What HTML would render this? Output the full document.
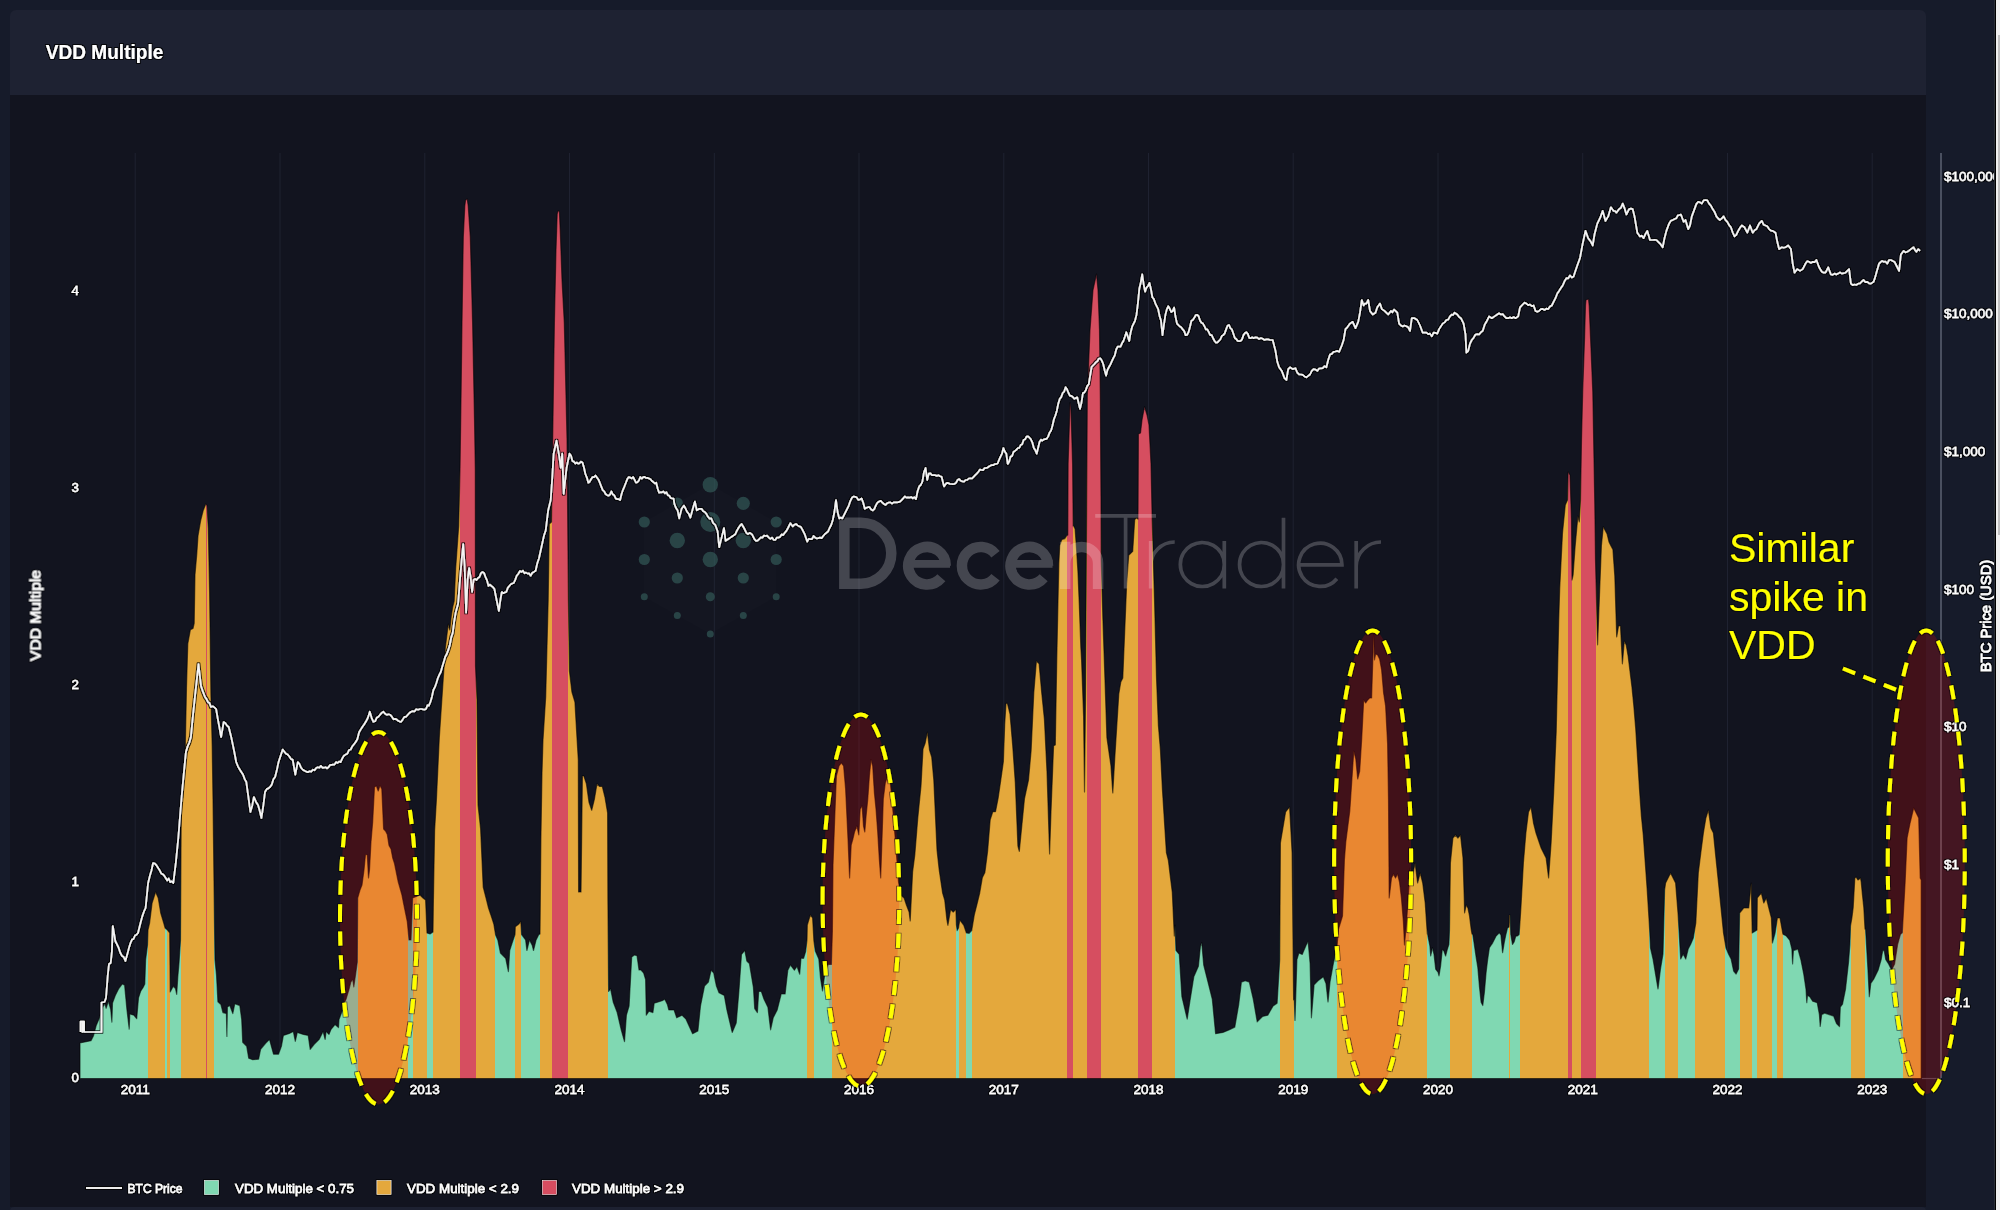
<!DOCTYPE html>
<html><head><meta charset="utf-8"><title>VDD Multiple</title>
<style>
html,body{margin:0;padding:0;}
body{width:2000px;height:1210px;overflow:hidden;background:#161b2a;position:relative;font-family:"Liberation Sans",sans-serif;}
.hdr{position:absolute;left:10px;top:10px;width:1916px;height:84.5px;background:#1e2232;border-radius:6px 6px 0 0;}
.panel{position:absolute;left:10px;top:94.5px;width:1916px;height:1112.5px;background:#12141f;}
.foot{position:absolute;left:10px;top:1207px;width:1916px;height:10px;background:#1d2131;border-radius:4px 4px 0 0;}
.sb{position:absolute;left:1994px;top:0;width:6px;height:1210px;background:#f0f0f0;}
.sb:before{content:"";position:absolute;left:0;top:0;width:1px;height:1210px;background:#2a2e36;}
.sb:after{content:"";position:absolute;left:1px;top:0;width:1px;height:1210px;background:#000;}
.thumb{position:absolute;left:1998px;top:35px;width:2px;height:500px;background:#c1c1c1;}
svg{position:absolute;left:0;top:0;}
</style></head><body>
<div class="hdr"></div>
<div class="panel"></div>
<div class="foot"></div>
<svg width="2000" height="1210" viewBox="0 0 2000 1210" font-family="Liberation Sans, sans-serif">
<defs>
<clipPath id="area"><path d="M80 1078.5 L80 1043 L91 1040.7 L93.4 1036 L96.2 1025.6 L99.1 1018.7 L102.6 1007.1 L104.9 1003.6 L106.1 1008.3 L108.4 1001.3 L110.7 1009.4 L111.9 1022.1 L112.5 1003 L115.3 995.5 L118.8 988.6 L122.3 984 L124.6 985.1 L126.9 1009.4 L129.2 1029.1 L129.8 1014 L133.9 1015.2 L136.7 1018.7 L138.5 997.9 L140.8 990.9 L143.1 987.4 L144.8 984 L145.6 960 L147.5 945 L148 930 L149.6 923 L152.1 903 L155.6 892 L158.2 898 L160.7 913 L163.7 923 L165.1 928 L167.4 930 L169.7 933 L170.2 992 L173.2 986.3 L175.5 988.6 L176.7 994.4 L177.8 977 L179 963.1 L180.5 940 L181.3 800 L182.7 797.7 L185.3 746.4 L186.5 687.4 L187.8 643.8 L190.4 629.7 L193 628.5 L194.2 623.3 L195 574.6 L196.8 554 L198 536 L200.6 520.8 L203.2 510.5 L205.8 504.1 L207 505.4 L208.3 528.5 L209.6 592.6 L210.9 695 L212.2 746.4 L213 800 L214.6 933 L215 960 L216.5 975 L217.9 1001.7 L220.9 1004.6 L222.9 1012.6 L226.4 1013.6 L226.9 1036.4 L227.4 1007 L229.8 1005.6 L232.8 1013.6 L234.8 1003.7 L239.8 1005.6 L241.7 1019.5 L242.7 1042.3 L246.7 1046.3 L248.7 1058.2 L252.7 1059.7 L258.6 1059.2 L260.6 1049.3 L265.6 1043.3 L269.5 1039.4 L273.5 1054.2 L278.5 1054.2 L281.4 1046.3 L283.4 1035.4 L289.4 1033.4 L293.3 1031.4 L295.3 1041.3 L297.3 1032.4 L303.3 1034.4 L308.2 1035.4 L310.2 1049.3 L314.2 1044.3 L319.1 1039.4 L323.1 1031.4 L325.1 1039.4 L326.1 1031.4 L329 1034.4 L331 1029.4 L335 1024.5 L338.5 1027.5 L339 1019.5 L342 1011.6 L343.4 1003.7 L345.9 999.7 L348.9 989.8 L350.9 981.8 L352.9 979.8 L353.8 986.8 L355.5 975 L357.3 962 L357.7 898 L360 890 L362 885 L364 870 L365.5 854.5 L367.3 855 L368.5 878 L369.5 870 L371 842 L372.7 821.8 L374.5 787 L376.4 786 L378.2 791 L380 785.5 L381.8 789 L383.6 829 L385.5 831 L387.3 834.5 L389 845.5 L391 849 L392.7 858 L394.5 863.6 L398.2 881.8 L401.8 894.5 L403.6 903.6 L407.3 921.8 L409 940 L411 940 L412.6 898 L415 897 L420 895 L423 898 L425.6 900 L427 933 L430 934 L433 932 L433.3 908 L434.6 831 L436.4 800 L439.3 738 L442.3 693 L445.3 648 L448.3 624 L449.8 630 L451.3 616 L452.7 607 L454.2 601 L455.7 568 L457.2 547 L458.7 526 L460 470 L461 400 L462 323 L463.3 237 L464.8 206 L465.6 200 L467.2 199 L468.2 206 L470.3 237 L472.6 323 L474.5 420 L475.3 470 L475.5 666 L477 700 L478 805 L480.6 828.8 L481.9 857.9 L483.2 887 L485.9 897.6 L488.5 908 L491.2 916 L493.8 924 L495.1 932 L495.6 935 L497.8 939.9 L500.4 953 L503.1 955.8 L505.7 958.4 L508.4 971.6 L509.7 950.5 L512.3 942.5 L515 934.6 L515.3 926.7 L518.9 924 L520.8 921.4 L521.6 934.6 L525.6 939.9 L526.9 950.5 L529.5 939.9 L532.2 945.2 L533.5 950.5 L536.1 939.9 L538.8 934.6 L540 934 L540.9 839.4 L542 773 L543 740 L545.7 697 L548.2 600 L549.3 524 L551.5 522 L552.7 439 L554.4 323 L556 250 L557.2 214 L558 211 L559.4 211.5 L560.4 235 L562 280 L564.3 323 L567 439 L568.4 600 L569.4 671 L571.9 692 L574.9 702 L577.1 740 L578.3 760 L578.6 892 L581 892 L582.4 775.9 L583.8 775.9 L586.4 783.8 L589 802.3 L591.7 810.3 L594.3 799.7 L597 783.8 L599.6 786.5 L602.3 786.5 L604.9 797 L607.6 812.9 L607.9 900 L608.6 991.4 L610.6 988.8 L613.2 1002 L617.2 1012.6 L621.2 1029.8 L624.5 1041.7 L626.4 1015.2 L629.1 1006 L631.7 957 L634.4 955 L637 955.7 L639 970 L641 970 L643.6 972.9 L645.6 979.5 L646.3 1015.2 L648.9 1011.2 L652.9 1012.6 L654.2 1003.3 L658.2 1002 L662.1 1000.7 L664.8 999.3 L667.4 1004.6 L668.8 1009.9 L674 1009.9 L676.7 1017.8 L682 1015.2 L686 1019.2 L692.6 1033.7 L697.9 1031 L700.5 1006 L704.5 986.1 L708.4 982.1 L711.1 970.2 L713.7 972.9 L716.4 986.1 L719 992.7 L724.3 995.4 L726.9 1009.9 L732.2 1032.4 L736.2 1023.1 L738.8 992.7 L741.5 954.4 L744.8 950.4 L746.8 961 L749.4 963.6 L753.4 987.4 L754.7 1008.6 L757.4 1012.6 L758.7 991.4 L761.3 991.4 L764 999.3 L767.9 1007.3 L770.6 1029.8 L773.2 1017.8 L777.2 1009.9 L781.2 994 L785.1 994 L787.8 970.2 L790.4 965 L794.4 970.2 L797 966.3 L799.7 974.2 L801 958.3 L803.6 958.3 L805.6 951.7 L807 940 L807.3 925 L810.3 915 L812.6 918 L813.9 941 L815.3 951 L818.8 959 L820.5 978 L822.5 991 L824.8 974 L828.1 964.5 L831.4 964.5 L832.4 931 L833 865 L834.7 819 L836.4 776 L839 766 L841.3 763 L843.6 766 L845.6 789 L848 839 L849.6 878 L851.2 845 L852.9 839 L854.5 832 L856.9 826 L858.8 835 L860.2 809 L862.1 806 L863.5 826 L864.8 832 L866.1 816 L867.8 799 L869.4 776 L871 759.5 L872.7 766 L874.4 793 L876 809 L877.7 832 L879.3 859 L880.7 878 L882 839 L883.3 799 L885.3 783 L887.6 776 L889.9 779 L891.9 799 L894.2 826 L896.5 855 L898.5 882 L900.8 895 L904.1 898 L906.4 905 L909.1 912 L910.2 921 L912.6 872 L914.8 855 L917.8 818 L921 786 L923 749 L925.2 743 L927.4 732 L929.5 750 L931.7 757 L933.8 780 L937 850 L939.2 870 L942.6 893 L944.7 900 L946.9 920 L947.9 925.3 L950.6 909.5 L953.2 912.1 L955.9 909.5 L956.4 925 L957.2 930.6 L958.5 928 L959.8 920 L963.8 925.3 L966.4 933 L969.1 933.3 L971.7 930.6 L974.3 914.8 L977 904.2 L979.6 893.6 L982.3 877.8 L984.9 872.5 L987.6 851.4 L990.2 819.7 L992.8 811.7 L995.5 811.7 L998.1 798.5 L1000.8 780 L1003.4 761.5 L1004.7 724.5 L1006 703.4 L1007.4 703.4 L1010 714 L1012.7 745.7 L1015.3 782.7 L1017.9 846 L1019.3 851.4 L1021.9 825 L1024.5 798.5 L1028.5 780 L1031.1 751 L1033.8 692.8 L1036.4 661.1 L1039.1 663.8 L1041.7 692.8 L1044.4 719.3 L1047 772.1 L1049.6 854 L1051 811.7 L1053.6 745.7 L1055.3 745 L1056.8 658 L1058.8 563 L1059.8 545.5 L1061.8 539.6 L1064.8 538.6 L1066.7 535.6 L1067.8 535 L1068.1 464 L1069.5 420 L1070 402.5 L1071 410 L1072.6 464 L1073.2 526 L1073.7 526 L1075.1 529 L1076.5 548.6 L1077.9 571 L1079.3 605 L1080.8 647 L1081.6 661 L1083.6 717 L1084.5 792 L1085.5 700 L1087.3 396 L1090 330 L1093 290 L1096.5 274 L1098 290 L1099.5 330 L1100.3 396 L1101 500 L1101.2 559 L1102.9 619 L1104.9 678 L1106.9 737.7 L1110.9 765.5 L1112.8 793 L1114.8 757.6 L1118.8 694 L1120.8 682 L1122.8 678 L1126.7 583 L1128.7 555.3 L1132.7 551.4 L1134.7 519.7 L1136.6 517.7 L1138 519 L1138.4 434 L1140.5 433 L1142 420 L1144.5 406.7 L1147 415 L1149 425 L1151 464 L1152.2 520 L1154.5 599 L1156.5 678 L1158.4 725.8 L1160.4 749.6 L1162.4 789.3 L1164.4 821 L1166.4 852.7 L1168.4 860.6 L1170.3 876.5 L1172.3 892.4 L1174.3 936 L1175 925 L1176 950.4 L1179.3 954.4 L1181.9 996.7 L1187.2 1019.1 L1189.8 1002 L1193.8 976.8 L1198.4 966.3 L1200.4 946.4 L1201.7 942.5 L1203.7 965 L1207 978.2 L1212.3 999.3 L1215.6 1033.7 L1222.9 1032.4 L1229.5 1029.7 L1234.8 1027.1 L1238.7 1004.6 L1241.4 982.1 L1245.3 980.8 L1249.3 982.1 L1253.3 999.3 L1257.2 1021.8 L1262.5 1016.5 L1267.8 1015.2 L1273.1 1005.9 L1277.1 1003.3 L1279.7 959.7 L1280.4 843 L1285.6 812 L1289.6 807 L1292.1 853 L1293.6 1000 L1294.3 999.3 L1295 1020.5 L1296.9 959.7 L1298.9 953 L1302.2 954.4 L1306.2 945.1 L1308.1 941.2 L1310.1 963.6 L1311.4 1017.8 L1314.1 984.8 L1318 980.8 L1323.3 976.8 L1326 983.5 L1328 1002 L1330 982.1 L1332.6 967.6 L1335 955 L1336.6 953 L1337.9 935 L1338.5 929 L1341 921 L1342.5 916 L1343.4 890 L1344.4 860 L1345.8 842 L1349.8 811 L1353.8 751 L1355.8 759 L1357.7 779 L1359.7 771 L1361.7 739 L1363.7 700 L1365.7 703 L1367.7 700 L1369.7 698 L1371.6 698 L1372.8 660 L1373.6 634 L1374.5 660 L1375.6 654 L1377.6 655 L1379.6 659 L1381.6 670 L1383.6 693 L1385.6 706 L1387.6 744 L1388.5 800 L1389.2 898 L1391.5 878 L1393.5 874 L1395.5 878 L1397.5 874 L1399.5 882 L1401.4 898 L1403.4 922 L1404.5 945 L1406.6 922 L1410.1 868 L1411.4 882 L1415.1 863 L1417.6 883 L1420.2 873 L1422.7 883 L1425.2 903 L1427.3 934 L1427.6 934.5 L1429.9 946 L1430.7 956 L1432.4 947.7 L1434 954.3 L1435.7 969.2 L1438.2 972.5 L1439 975.8 L1440.6 965.9 L1442.3 949.4 L1443.9 951 L1445.6 956 L1447.3 949.4 L1448.9 944.4 L1449.5 930 L1450.4 863 L1452.9 838 L1455.4 835 L1457.9 838 L1460.5 835 L1463 858 L1464.3 900 L1464.6 913 L1466.2 905 L1467.9 908 L1469.5 916 L1471.2 929.5 L1472 934 L1472.8 934.5 L1474.5 946 L1476.2 957.6 L1477.8 967.5 L1479.5 987.3 L1481.1 1002.2 L1482.8 1005.5 L1484.4 992.3 L1486.1 972.5 L1487.7 959.3 L1489.4 947.7 L1492.7 942.8 L1496 936.2 L1499.3 932.8 L1500.9 935 L1502.6 952.7 L1504.2 942.8 L1505.9 934.5 L1507.5 927.9 L1509 927 L1509.4 915 L1510.1 915 L1510.8 934.5 L1512.5 944.4 L1514.1 942 L1515.8 936.2 L1517.4 936 L1519.1 934.5 L1519.8 925 L1520.9 908 L1523.4 863 L1525.9 833 L1528.5 812 L1531 807 L1533.5 823 L1536 833 L1541.1 848 L1546.1 858 L1548.6 878 L1551.1 843 L1553.7 792 L1556.2 732 L1558.7 621 L1559.7 589 L1562.5 533 L1565.3 505 L1567.5 500 L1568.1 472 L1570 475 L1571.5 520 L1572 580 L1573.1 575 L1575.1 547 L1577.9 516 L1579.3 522 L1580.5 500 L1581.5 440 L1582.7 392 L1584.5 340 L1585.5 305 L1586 300 L1588.5 299 L1589.2 306 L1590.2 330 L1592.8 392 L1594.8 505 L1595.5 560 L1595.9 576 L1597.6 644.8 L1599.5 595 L1601.4 545.7 L1603.3 526.7 L1605.2 530.5 L1607.1 534 L1609 541.9 L1611 546 L1612.9 549.5 L1614.8 576 L1616.7 637 L1618.6 625.7 L1620.5 626 L1622.4 663.8 L1624.3 641 L1626.2 645 L1628.1 656 L1630 671.4 L1631.9 686.7 L1633.8 705.7 L1635.7 728.6 L1637.6 759 L1639.5 789.5 L1641.4 816.2 L1643.3 835.2 L1645.2 861.9 L1647.1 888.6 L1649 919 L1649.8 933 L1650.5 948 L1653 959 L1655.5 974 L1658 989 L1660.5 969 L1663 954 L1664.6 890 L1665.6 883 L1668.1 878 L1670.6 873 L1673.1 878 L1675.6 883 L1678 913 L1680.7 959 L1683.2 954 L1685.7 959 L1688.2 949 L1690.8 944 L1693.3 938 L1695.8 923 L1698.3 873 L1700.8 853 L1703.4 833 L1705.9 818 L1708.4 810 L1710.9 828 L1713.4 833 L1715.9 858 L1718.5 883 L1721 908 L1723.5 933 L1726 948 L1728.5 954 L1731.1 959 L1733.6 971 L1736.1 974 L1738.6 969 L1739.6 913 L1743.7 908 L1748.7 908 L1751.2 883 L1752.2 933 L1757 930 L1757.3 898 L1761.3 893 L1763.8 903 L1766.3 898 L1768.8 908 L1771.4 918 L1772.4 943 L1775.1 933 L1777.4 918 L1780 918 L1782.7 933 L1783 934.2 L1786 935.7 L1789.7 940.2 L1791.9 949.1 L1792.6 964 L1793.4 950.6 L1797.9 949.1 L1800.8 959.5 L1803.8 974.4 L1806 989.3 L1806.8 1002.7 L1807.5 995.2 L1809.8 996.7 L1812.7 1001.2 L1817.2 1002.7 L1819.4 1014.6 L1820.2 1026.5 L1821.7 1014.6 L1824.6 1013.1 L1829.1 1014.6 L1833.6 1016.1 L1836.5 1023.5 L1839.5 1026.5 L1840.3 1007.1 L1842.5 1004.2 L1845.5 989.3 L1848.5 962.5 L1849.9 944.6 L1850.5 926 L1851.9 918 L1853.2 907.6 L1854.8 878.5 L1856 877 L1858 880 L1860.5 878 L1861.2 882 L1862.4 894.4 L1863.8 907.6 L1865 929 L1865.6 929.8 L1867.8 967 L1869.3 996.7 L1870.8 983.3 L1873.8 978.9 L1878.2 969.9 L1881.2 959.5 L1882.7 950.6 L1884.2 950.6 L1885.7 959.5 L1888.6 964 L1891.6 969.9 L1894.6 964 L1897.6 944.6 L1900.5 934.2 L1902.3 932.7 L1905.1 883 L1907.1 838 L1910.1 823 L1913.7 808 L1916.2 813 L1918.7 818 L1920.2 878 L1921.2 880 L1921.2 1078.5 Z"/></clipPath>
<filter id="halo2" filterUnits="userSpaceOnUse" x="0" y="0" width="2000" height="1210">
<feMorphology in="SourceAlpha" operator="dilate" radius="1" result="d"/>
<feFlood flood-color="#000" flood-opacity="0.5"/>
<feComposite in2="d" operator="in" result="s"/>
<feMerge><feMergeNode in="s"/><feMergeNode in="SourceGraphic"/></feMerge>
</filter>
<filter id="halo" filterUnits="userSpaceOnUse" x="0" y="0" width="2000" height="1210">
<feMorphology in="SourceAlpha" operator="dilate" radius="1" result="d"/>
<feFlood flood-color="#000" flood-opacity="0.8"/>
<feComposite in2="d" operator="in" result="s"/>
<feMerge><feMergeNode in="s"/><feMergeNode in="SourceGraphic"/></feMerge>
</filter>
</defs>
<text x="45.8" y="59.2" font-size="19.5" font-weight="bold" fill="#fff" textLength="117.5" lengthAdjust="spacingAndGlyphs" filter="url(#halo)">VDD Multiple</text>
<g stroke="#1f2231" stroke-width="1"><line x1="135.2" y1="153" x2="135.2" y2="1078" /><line x1="280" y1="153" x2="280" y2="1078" /><line x1="424.8" y1="153" x2="424.8" y2="1078" /><line x1="569.5" y1="153" x2="569.5" y2="1078" /><line x1="714.3" y1="153" x2="714.3" y2="1078" /><line x1="859" y1="153" x2="859" y2="1078" /><line x1="1003.8" y1="153" x2="1003.8" y2="1078" /><line x1="1148.5" y1="153" x2="1148.5" y2="1078" /><line x1="1293.2" y1="153" x2="1293.2" y2="1078" /><line x1="1438" y1="153" x2="1438" y2="1078" /><line x1="1582.7" y1="153" x2="1582.7" y2="1078" /><line x1="1727.5" y1="153" x2="1727.5" y2="1078" /><line x1="1872.2" y1="153" x2="1872.2" y2="1078" /></g>
<g clip-path="url(#area)" shape-rendering="crispEdges"><rect x="80" y="150" width="67.7" height="930" fill="#80d8b2"/><rect x="147.7" y="150" width="17.4" height="930" fill="#e4a83c"/><rect x="165.1" y="150" width="2.3" height="930" fill="#80d8b2"/><rect x="167.4" y="150" width="2.3" height="930" fill="#e4a83c"/><rect x="169.7" y="150" width="11.6" height="930" fill="#80d8b2"/><rect x="181.3" y="150" width="24.9" height="930" fill="#e4a83c"/><rect x="206.2" y="150" width="1.1" height="930" fill="#d64e60"/><rect x="207.3" y="150" width="7.1" height="930" fill="#e4a83c"/><rect x="214.4" y="150" width="143.1" height="930" fill="#80d8b2"/><rect x="357.5" y="150" width="50.5" height="930" fill="#e4a83c"/><rect x="408" y="150" width="4.8" height="930" fill="#80d8b2"/><rect x="412.8" y="150" width="14.2" height="930" fill="#e4a83c"/><rect x="427" y="150" width="6.3" height="930" fill="#80d8b2"/><rect x="433.3" y="150" width="26.9" height="930" fill="#e4a83c"/><rect x="460.2" y="150" width="15.3" height="930" fill="#d64e60"/><rect x="475.5" y="150" width="19.8" height="930" fill="#e4a83c"/><rect x="495.3" y="150" width="19.8" height="930" fill="#80d8b2"/><rect x="515.1" y="150" width="6.3" height="930" fill="#e4a83c"/><rect x="521.4" y="150" width="18.9" height="930" fill="#80d8b2"/><rect x="540.3" y="150" width="11.7" height="930" fill="#e4a83c"/><rect x="552" y="150" width="16" height="930" fill="#d64e60"/><rect x="568" y="150" width="40" height="930" fill="#e4a83c"/><rect x="608" y="150" width="199.3" height="930" fill="#80d8b2"/><rect x="807.3" y="150" width="6.7" height="930" fill="#e4a83c"/><rect x="814" y="150" width="18.4" height="930" fill="#80d8b2"/><rect x="832.4" y="150" width="123.6" height="930" fill="#e4a83c"/><rect x="956.4" y="150" width="2.1" height="930" fill="#80d8b2"/><rect x="958.5" y="150" width="7.9" height="930" fill="#e4a83c"/><rect x="966.4" y="150" width="5.3" height="930" fill="#80d8b2"/><rect x="971.7" y="150" width="95.7" height="930" fill="#e4a83c"/><rect x="1067.4" y="150" width="6" height="930" fill="#d64e60"/><rect x="1073.4" y="150" width="13.1" height="930" fill="#e4a83c"/><rect x="1086.5" y="150" width="14.1" height="930" fill="#d64e60"/><rect x="1100.6" y="150" width="37.4" height="930" fill="#e4a83c"/><rect x="1138" y="150" width="14.4" height="930" fill="#d64e60"/><rect x="1152.4" y="150" width="22.2" height="930" fill="#e4a83c"/><rect x="1174.6" y="150" width="105.8" height="930" fill="#80d8b2"/><rect x="1280.4" y="150" width="13.2" height="930" fill="#e4a83c"/><rect x="1293.6" y="150" width="43.4" height="930" fill="#80d8b2"/><rect x="1337" y="150" width="90.5" height="930" fill="#e4a83c"/><rect x="1427.4" y="150" width="22.3" height="930" fill="#80d8b2"/><rect x="1449.7" y="150" width="22.3" height="930" fill="#e4a83c"/><rect x="1472" y="150" width="37.2" height="930" fill="#80d8b2"/><rect x="1509.2" y="150" width="1.1" height="930" fill="#e4a83c"/><rect x="1510.3" y="150" width="9.6" height="930" fill="#80d8b2"/><rect x="1519.9" y="150" width="48.1" height="930" fill="#e4a83c"/><rect x="1568" y="150" width="3.5" height="930" fill="#d64e60"/><rect x="1571.5" y="150" width="9.2" height="930" fill="#e4a83c"/><rect x="1580.7" y="150" width="14.8" height="930" fill="#d64e60"/><rect x="1595.5" y="150" width="53.9" height="930" fill="#e4a83c"/><rect x="1649.4" y="150" width="15.2" height="930" fill="#80d8b2"/><rect x="1664.6" y="150" width="13.6" height="930" fill="#e4a83c"/><rect x="1678.2" y="150" width="16.6" height="930" fill="#80d8b2"/><rect x="1694.8" y="150" width="30.2" height="930" fill="#e4a83c"/><rect x="1725" y="150" width="14.6" height="930" fill="#80d8b2"/><rect x="1739.6" y="150" width="12.4" height="930" fill="#e4a83c"/><rect x="1752" y="150" width="5.3" height="930" fill="#80d8b2"/><rect x="1757.3" y="150" width="15.1" height="930" fill="#e4a83c"/><rect x="1772.4" y="150" width="5" height="930" fill="#80d8b2"/><rect x="1777.4" y="150" width="5.3" height="930" fill="#e4a83c"/><rect x="1782.7" y="150" width="67.8" height="930" fill="#80d8b2"/><rect x="1850.5" y="150" width="14.5" height="930" fill="#e4a83c"/><rect x="1865" y="150" width="37.8" height="930" fill="#80d8b2"/><rect x="1902.8" y="150" width="18.7" height="930" fill="#e4a83c"/></g>
<path d="M80 1078.5 L80 1043 L91 1040.7 L93.4 1036 L96.2 1025.6 L99.1 1018.7 L102.6 1007.1 L104.9 1003.6 L106.1 1008.3 L108.4 1001.3 L110.7 1009.4 L111.9 1022.1 L112.5 1003 L115.3 995.5 L118.8 988.6 L122.3 984 L124.6 985.1 L126.9 1009.4 L129.2 1029.1 L129.8 1014 L133.9 1015.2 L136.7 1018.7 L138.5 997.9 L140.8 990.9 L143.1 987.4 L144.8 984 L145.6 960 L147.5 945 L148 930 L149.6 923 L152.1 903 L155.6 892 L158.2 898 L160.7 913 L163.7 923 L165.1 928 L167.4 930 L169.7 933 L170.2 992 L173.2 986.3 L175.5 988.6 L176.7 994.4 L177.8 977 L179 963.1 L180.5 940 L181.3 800 L182.7 797.7 L185.3 746.4 L186.5 687.4 L187.8 643.8 L190.4 629.7 L193 628.5 L194.2 623.3 L195 574.6 L196.8 554 L198 536 L200.6 520.8 L203.2 510.5 L205.8 504.1 L207 505.4 L208.3 528.5 L209.6 592.6 L210.9 695 L212.2 746.4 L213 800 L214.6 933 L215 960 L216.5 975 L217.9 1001.7 L220.9 1004.6 L222.9 1012.6 L226.4 1013.6 L226.9 1036.4 L227.4 1007 L229.8 1005.6 L232.8 1013.6 L234.8 1003.7 L239.8 1005.6 L241.7 1019.5 L242.7 1042.3 L246.7 1046.3 L248.7 1058.2 L252.7 1059.7 L258.6 1059.2 L260.6 1049.3 L265.6 1043.3 L269.5 1039.4 L273.5 1054.2 L278.5 1054.2 L281.4 1046.3 L283.4 1035.4 L289.4 1033.4 L293.3 1031.4 L295.3 1041.3 L297.3 1032.4 L303.3 1034.4 L308.2 1035.4 L310.2 1049.3 L314.2 1044.3 L319.1 1039.4 L323.1 1031.4 L325.1 1039.4 L326.1 1031.4 L329 1034.4 L331 1029.4 L335 1024.5 L338.5 1027.5 L339 1019.5 L342 1011.6 L343.4 1003.7 L345.9 999.7 L348.9 989.8 L350.9 981.8 L352.9 979.8 L353.8 986.8 L355.5 975 L357.3 962 L357.7 898 L360 890 L362 885 L364 870 L365.5 854.5 L367.3 855 L368.5 878 L369.5 870 L371 842 L372.7 821.8 L374.5 787 L376.4 786 L378.2 791 L380 785.5 L381.8 789 L383.6 829 L385.5 831 L387.3 834.5 L389 845.5 L391 849 L392.7 858 L394.5 863.6 L398.2 881.8 L401.8 894.5 L403.6 903.6 L407.3 921.8 L409 940 L411 940 L412.6 898 L415 897 L420 895 L423 898 L425.6 900 L427 933 L430 934 L433 932 L433.3 908 L434.6 831 L436.4 800 L439.3 738 L442.3 693 L445.3 648 L448.3 624 L449.8 630 L451.3 616 L452.7 607 L454.2 601 L455.7 568 L457.2 547 L458.7 526 L460 470 L461 400 L462 323 L463.3 237 L464.8 206 L465.6 200 L467.2 199 L468.2 206 L470.3 237 L472.6 323 L474.5 420 L475.3 470 L475.5 666 L477 700 L478 805 L480.6 828.8 L481.9 857.9 L483.2 887 L485.9 897.6 L488.5 908 L491.2 916 L493.8 924 L495.1 932 L495.6 935 L497.8 939.9 L500.4 953 L503.1 955.8 L505.7 958.4 L508.4 971.6 L509.7 950.5 L512.3 942.5 L515 934.6 L515.3 926.7 L518.9 924 L520.8 921.4 L521.6 934.6 L525.6 939.9 L526.9 950.5 L529.5 939.9 L532.2 945.2 L533.5 950.5 L536.1 939.9 L538.8 934.6 L540 934 L540.9 839.4 L542 773 L543 740 L545.7 697 L548.2 600 L549.3 524 L551.5 522 L552.7 439 L554.4 323 L556 250 L557.2 214 L558 211 L559.4 211.5 L560.4 235 L562 280 L564.3 323 L567 439 L568.4 600 L569.4 671 L571.9 692 L574.9 702 L577.1 740 L578.3 760 L578.6 892 L581 892 L582.4 775.9 L583.8 775.9 L586.4 783.8 L589 802.3 L591.7 810.3 L594.3 799.7 L597 783.8 L599.6 786.5 L602.3 786.5 L604.9 797 L607.6 812.9 L607.9 900 L608.6 991.4 L610.6 988.8 L613.2 1002 L617.2 1012.6 L621.2 1029.8 L624.5 1041.7 L626.4 1015.2 L629.1 1006 L631.7 957 L634.4 955 L637 955.7 L639 970 L641 970 L643.6 972.9 L645.6 979.5 L646.3 1015.2 L648.9 1011.2 L652.9 1012.6 L654.2 1003.3 L658.2 1002 L662.1 1000.7 L664.8 999.3 L667.4 1004.6 L668.8 1009.9 L674 1009.9 L676.7 1017.8 L682 1015.2 L686 1019.2 L692.6 1033.7 L697.9 1031 L700.5 1006 L704.5 986.1 L708.4 982.1 L711.1 970.2 L713.7 972.9 L716.4 986.1 L719 992.7 L724.3 995.4 L726.9 1009.9 L732.2 1032.4 L736.2 1023.1 L738.8 992.7 L741.5 954.4 L744.8 950.4 L746.8 961 L749.4 963.6 L753.4 987.4 L754.7 1008.6 L757.4 1012.6 L758.7 991.4 L761.3 991.4 L764 999.3 L767.9 1007.3 L770.6 1029.8 L773.2 1017.8 L777.2 1009.9 L781.2 994 L785.1 994 L787.8 970.2 L790.4 965 L794.4 970.2 L797 966.3 L799.7 974.2 L801 958.3 L803.6 958.3 L805.6 951.7 L807 940 L807.3 925 L810.3 915 L812.6 918 L813.9 941 L815.3 951 L818.8 959 L820.5 978 L822.5 991 L824.8 974 L828.1 964.5 L831.4 964.5 L832.4 931 L833 865 L834.7 819 L836.4 776 L839 766 L841.3 763 L843.6 766 L845.6 789 L848 839 L849.6 878 L851.2 845 L852.9 839 L854.5 832 L856.9 826 L858.8 835 L860.2 809 L862.1 806 L863.5 826 L864.8 832 L866.1 816 L867.8 799 L869.4 776 L871 759.5 L872.7 766 L874.4 793 L876 809 L877.7 832 L879.3 859 L880.7 878 L882 839 L883.3 799 L885.3 783 L887.6 776 L889.9 779 L891.9 799 L894.2 826 L896.5 855 L898.5 882 L900.8 895 L904.1 898 L906.4 905 L909.1 912 L910.2 921 L912.6 872 L914.8 855 L917.8 818 L921 786 L923 749 L925.2 743 L927.4 732 L929.5 750 L931.7 757 L933.8 780 L937 850 L939.2 870 L942.6 893 L944.7 900 L946.9 920 L947.9 925.3 L950.6 909.5 L953.2 912.1 L955.9 909.5 L956.4 925 L957.2 930.6 L958.5 928 L959.8 920 L963.8 925.3 L966.4 933 L969.1 933.3 L971.7 930.6 L974.3 914.8 L977 904.2 L979.6 893.6 L982.3 877.8 L984.9 872.5 L987.6 851.4 L990.2 819.7 L992.8 811.7 L995.5 811.7 L998.1 798.5 L1000.8 780 L1003.4 761.5 L1004.7 724.5 L1006 703.4 L1007.4 703.4 L1010 714 L1012.7 745.7 L1015.3 782.7 L1017.9 846 L1019.3 851.4 L1021.9 825 L1024.5 798.5 L1028.5 780 L1031.1 751 L1033.8 692.8 L1036.4 661.1 L1039.1 663.8 L1041.7 692.8 L1044.4 719.3 L1047 772.1 L1049.6 854 L1051 811.7 L1053.6 745.7 L1055.3 745 L1056.8 658 L1058.8 563 L1059.8 545.5 L1061.8 539.6 L1064.8 538.6 L1066.7 535.6 L1067.8 535 L1068.1 464 L1069.5 420 L1070 402.5 L1071 410 L1072.6 464 L1073.2 526 L1073.7 526 L1075.1 529 L1076.5 548.6 L1077.9 571 L1079.3 605 L1080.8 647 L1081.6 661 L1083.6 717 L1084.5 792 L1085.5 700 L1087.3 396 L1090 330 L1093 290 L1096.5 274 L1098 290 L1099.5 330 L1100.3 396 L1101 500 L1101.2 559 L1102.9 619 L1104.9 678 L1106.9 737.7 L1110.9 765.5 L1112.8 793 L1114.8 757.6 L1118.8 694 L1120.8 682 L1122.8 678 L1126.7 583 L1128.7 555.3 L1132.7 551.4 L1134.7 519.7 L1136.6 517.7 L1138 519 L1138.4 434 L1140.5 433 L1142 420 L1144.5 406.7 L1147 415 L1149 425 L1151 464 L1152.2 520 L1154.5 599 L1156.5 678 L1158.4 725.8 L1160.4 749.6 L1162.4 789.3 L1164.4 821 L1166.4 852.7 L1168.4 860.6 L1170.3 876.5 L1172.3 892.4 L1174.3 936 L1175 925 L1176 950.4 L1179.3 954.4 L1181.9 996.7 L1187.2 1019.1 L1189.8 1002 L1193.8 976.8 L1198.4 966.3 L1200.4 946.4 L1201.7 942.5 L1203.7 965 L1207 978.2 L1212.3 999.3 L1215.6 1033.7 L1222.9 1032.4 L1229.5 1029.7 L1234.8 1027.1 L1238.7 1004.6 L1241.4 982.1 L1245.3 980.8 L1249.3 982.1 L1253.3 999.3 L1257.2 1021.8 L1262.5 1016.5 L1267.8 1015.2 L1273.1 1005.9 L1277.1 1003.3 L1279.7 959.7 L1280.4 843 L1285.6 812 L1289.6 807 L1292.1 853 L1293.6 1000 L1294.3 999.3 L1295 1020.5 L1296.9 959.7 L1298.9 953 L1302.2 954.4 L1306.2 945.1 L1308.1 941.2 L1310.1 963.6 L1311.4 1017.8 L1314.1 984.8 L1318 980.8 L1323.3 976.8 L1326 983.5 L1328 1002 L1330 982.1 L1332.6 967.6 L1335 955 L1336.6 953 L1337.9 935 L1338.5 929 L1341 921 L1342.5 916 L1343.4 890 L1344.4 860 L1345.8 842 L1349.8 811 L1353.8 751 L1355.8 759 L1357.7 779 L1359.7 771 L1361.7 739 L1363.7 700 L1365.7 703 L1367.7 700 L1369.7 698 L1371.6 698 L1372.8 660 L1373.6 634 L1374.5 660 L1375.6 654 L1377.6 655 L1379.6 659 L1381.6 670 L1383.6 693 L1385.6 706 L1387.6 744 L1388.5 800 L1389.2 898 L1391.5 878 L1393.5 874 L1395.5 878 L1397.5 874 L1399.5 882 L1401.4 898 L1403.4 922 L1404.5 945 L1406.6 922 L1410.1 868 L1411.4 882 L1415.1 863 L1417.6 883 L1420.2 873 L1422.7 883 L1425.2 903 L1427.3 934 L1427.6 934.5 L1429.9 946 L1430.7 956 L1432.4 947.7 L1434 954.3 L1435.7 969.2 L1438.2 972.5 L1439 975.8 L1440.6 965.9 L1442.3 949.4 L1443.9 951 L1445.6 956 L1447.3 949.4 L1448.9 944.4 L1449.5 930 L1450.4 863 L1452.9 838 L1455.4 835 L1457.9 838 L1460.5 835 L1463 858 L1464.3 900 L1464.6 913 L1466.2 905 L1467.9 908 L1469.5 916 L1471.2 929.5 L1472 934 L1472.8 934.5 L1474.5 946 L1476.2 957.6 L1477.8 967.5 L1479.5 987.3 L1481.1 1002.2 L1482.8 1005.5 L1484.4 992.3 L1486.1 972.5 L1487.7 959.3 L1489.4 947.7 L1492.7 942.8 L1496 936.2 L1499.3 932.8 L1500.9 935 L1502.6 952.7 L1504.2 942.8 L1505.9 934.5 L1507.5 927.9 L1509 927 L1509.4 915 L1510.1 915 L1510.8 934.5 L1512.5 944.4 L1514.1 942 L1515.8 936.2 L1517.4 936 L1519.1 934.5 L1519.8 925 L1520.9 908 L1523.4 863 L1525.9 833 L1528.5 812 L1531 807 L1533.5 823 L1536 833 L1541.1 848 L1546.1 858 L1548.6 878 L1551.1 843 L1553.7 792 L1556.2 732 L1558.7 621 L1559.7 589 L1562.5 533 L1565.3 505 L1567.5 500 L1568.1 472 L1570 475 L1571.5 520 L1572 580 L1573.1 575 L1575.1 547 L1577.9 516 L1579.3 522 L1580.5 500 L1581.5 440 L1582.7 392 L1584.5 340 L1585.5 305 L1586 300 L1588.5 299 L1589.2 306 L1590.2 330 L1592.8 392 L1594.8 505 L1595.5 560 L1595.9 576 L1597.6 644.8 L1599.5 595 L1601.4 545.7 L1603.3 526.7 L1605.2 530.5 L1607.1 534 L1609 541.9 L1611 546 L1612.9 549.5 L1614.8 576 L1616.7 637 L1618.6 625.7 L1620.5 626 L1622.4 663.8 L1624.3 641 L1626.2 645 L1628.1 656 L1630 671.4 L1631.9 686.7 L1633.8 705.7 L1635.7 728.6 L1637.6 759 L1639.5 789.5 L1641.4 816.2 L1643.3 835.2 L1645.2 861.9 L1647.1 888.6 L1649 919 L1649.8 933 L1650.5 948 L1653 959 L1655.5 974 L1658 989 L1660.5 969 L1663 954 L1664.6 890 L1665.6 883 L1668.1 878 L1670.6 873 L1673.1 878 L1675.6 883 L1678 913 L1680.7 959 L1683.2 954 L1685.7 959 L1688.2 949 L1690.8 944 L1693.3 938 L1695.8 923 L1698.3 873 L1700.8 853 L1703.4 833 L1705.9 818 L1708.4 810 L1710.9 828 L1713.4 833 L1715.9 858 L1718.5 883 L1721 908 L1723.5 933 L1726 948 L1728.5 954 L1731.1 959 L1733.6 971 L1736.1 974 L1738.6 969 L1739.6 913 L1743.7 908 L1748.7 908 L1751.2 883 L1752.2 933 L1757 930 L1757.3 898 L1761.3 893 L1763.8 903 L1766.3 898 L1768.8 908 L1771.4 918 L1772.4 943 L1775.1 933 L1777.4 918 L1780 918 L1782.7 933 L1783 934.2 L1786 935.7 L1789.7 940.2 L1791.9 949.1 L1792.6 964 L1793.4 950.6 L1797.9 949.1 L1800.8 959.5 L1803.8 974.4 L1806 989.3 L1806.8 1002.7 L1807.5 995.2 L1809.8 996.7 L1812.7 1001.2 L1817.2 1002.7 L1819.4 1014.6 L1820.2 1026.5 L1821.7 1014.6 L1824.6 1013.1 L1829.1 1014.6 L1833.6 1016.1 L1836.5 1023.5 L1839.5 1026.5 L1840.3 1007.1 L1842.5 1004.2 L1845.5 989.3 L1848.5 962.5 L1849.9 944.6 L1850.5 926 L1851.9 918 L1853.2 907.6 L1854.8 878.5 L1856 877 L1858 880 L1860.5 878 L1861.2 882 L1862.4 894.4 L1863.8 907.6 L1865 929 L1865.6 929.8 L1867.8 967 L1869.3 996.7 L1870.8 983.3 L1873.8 978.9 L1878.2 969.9 L1881.2 959.5 L1882.7 950.6 L1884.2 950.6 L1885.7 959.5 L1888.6 964 L1891.6 969.9 L1894.6 964 L1897.6 944.6 L1900.5 934.2 L1902.3 932.7 L1905.1 883 L1907.1 838 L1910.1 823 L1913.7 808 L1916.2 813 L1918.7 818 L1920.2 878 L1921.2 880 L1921.2 1078.5 Z" fill="none" stroke="#000" stroke-opacity="0.55" stroke-width="1.2" stroke-linejoin="round"/>
<line x1="1921.8" y1="1078.5" x2="1941" y2="1078.5" stroke="#4a5060" stroke-width="1.2"/>
<polygon points="710,484 776,522 776,597 710,634 644,597 644,522" fill="#ffffff" fill-opacity="0.012"/>
<g fill="#3b6b66" fill-opacity="0.55"><circle cx="710.3" cy="484.7" r="7.7"/><circle cx="710.3" cy="522" r="10"/><circle cx="710.3" cy="559.5" r="7.7"/><circle cx="710.3" cy="596.8" r="4.5"/><circle cx="710.3" cy="634" r="3.5"/><circle cx="677.3" cy="503" r="5.6"/><circle cx="677.3" cy="540.5" r="7.7"/><circle cx="677.3" cy="578" r="5.6"/><circle cx="677.3" cy="615.4" r="3.5"/><circle cx="743.3" cy="503.3" r="6.6"/><circle cx="743.3" cy="540.5" r="7.7"/><circle cx="743.3" cy="578" r="5.6"/><circle cx="743.3" cy="615.4" r="3.5"/><circle cx="644.3" cy="522" r="5.6"/><circle cx="644.3" cy="559.5" r="5.6"/><circle cx="644.3" cy="596.8" r="3.5"/><circle cx="776.2" cy="522" r="5.6"/><circle cx="776.2" cy="559.5" r="5.6"/><circle cx="776.2" cy="596.8" r="3.5"/></g>
<g opacity="0.21" fill="none" stroke="#fff">
<path d="M844.35 522.85 H860.85 A30.45 30.45 0 0 1 860.85 583.75 H844.35 Z M945.75 565.7 A18.75 18.75 0 1 0 941.36 577.75 M995.5 554.2 A18.75 18.75 0 1 0 995.5 577.2 M1048.05 565.7 A18.75 18.75 0 1 0 1043.66 577.75 M1065.2 589 V541.7 M1065.2 563.4 A16.45 16.45 0 0 1 1098.1 563.4 V589" stroke-width="10.5"/>
<path d="M906 563.8 H950 M1010.5 563.8 H1052.5" stroke-width="7.8"/>
<path d="M1095.2 515.8 H1156 M1125.6 515.8 V588.5 M1150.7 588.5 V541 M1150.7 566 A24 24 0 0 1 1174.7 542 M1224.3 541 V588.5 M1224.3 564.5 A21.98 21.98 0 1 1 1224.3 564.49 M1283.5 517.7 V588.5 M1283.5 564.5 A21.98 21.98 0 1 1 1283.5 564.49 M1298.65 564.8 H1341.95 A21.65 21.65 0 1 0 1336.9 578.7 M1356.2 588.5 V541 M1356.2 566 A24.8 24.8 0 0 1 1381 542" stroke-width="3.7"/>
</g>
<path d="M80.6 1032 L80.6 1021.6 L82.4 1021.6 L82.4 1032 L82.4 1021.6 L84.1 1021.6 L84.1 1032 L101.5 1032 L101.5 1002.5 L104.5 1002 L106 998 L107.8 975 L109 964 L110.7 963 L111.9 951.6 L112.8 926 L115.3 941 L117 944.4 L118.7 947.9 L120.4 953 L122.1 956.1 L123.7 957 L125.4 961 L127.1 955.1 L128.8 948.6 L130.5 943 L132 939.6 L133.5 939 L135 935.5 L136.5 934.8 L138 933 L140.5 923 L142.2 916.6 L143.9 911.7 L145.6 908 L148.1 883 L149.8 876.1 L151.4 870.7 L153.1 863 L154.8 863.5 L156.5 865.4 L158.2 868 L159.7 870.4 L161.2 873.4 L162.7 874.2 L164.2 875.7 L165.7 878 L167.2 880.5 L168.7 878.5 L170.3 882.1 L171.8 881.3 L173.3 883 L175.8 863 L178.3 838 L180.1 815.4 L181.8 795 L183.9 772.3 L185.9 752 L187.6 746.4 L189.2 743 L190.9 737 L192.9 716 L194.9 697 L196.7 680.8 L198.5 664 L201 686 L203 691.9 L205 697 L206.5 699.1 L208 702.2 L209.5 703.1 L211 707 L212.7 706.3 L214.4 707.4 L216.1 709 L217.8 718.9 L219.4 727.4 L221.1 737 L223.7 722 L225.4 723.1 L227 725.6 L228.7 727 L231.2 737 L232.9 745.2 L234.5 753 L236.2 762 L237.9 766.3 L239.6 769.3 L241.3 772 L243 774.5 L244.6 778.9 L246.3 782 L248.4 797.1 L250.4 812 L252.2 805.7 L253.9 797 L255.9 801.7 L258 805 L259.7 810.8 L261.4 818 L263.2 806.5 L265 792 L266.7 789.1 L268.4 788.4 L270.1 787 L271.8 784.5 L273.4 779.2 L275.1 777 L276.8 770.3 L278.5 762.2 L280.2 757 L282.7 749.5 L284.4 751.7 L286 753.7 L287.7 754.6 L289.4 756.5 L291 759.1 L292.7 759.6 L295.3 774.7 L297.8 762.1 L299.5 764 L301.1 767.8 L302.8 769.7 L304.5 770.8 L306.2 771.6 L307.9 772.2 L309.6 771.2 L311.2 771.6 L312.9 769.7 L314.6 770.3 L316.2 768 L317.9 767.2 L319.4 767.7 L320.9 765.8 L322.5 767.8 L324 767.7 L325.5 767.2 L327 768.3 L328.5 767.2 L330 765 L331.5 764.8 L333 764.6 L334.5 764.6 L336 762.1 L337.6 763 L339.1 761.5 L340.6 762.1 L342.3 758.4 L343.9 755.7 L345.6 754.6 L347.3 753.8 L349 750 L350.7 749.5 L352.4 746.2 L354 744.2 L355.7 742 L357.4 739 L359.1 732.3 L360.8 729.4 L362.5 726.7 L364.1 724.5 L365.8 721.8 L367.8 718 L369.8 711.7 L371.6 717.8 L373.4 721.8 L375.1 721.3 L376.7 717.8 L378.4 716.8 L380.1 714.8 L381.7 712.9 L383.4 711.7 L385.1 713.8 L386.8 714.9 L388.5 714.3 L390.2 714.8 L391.8 716.6 L393.5 719.3 L395 718.9 L396.5 719.4 L398.1 720.8 L399.6 721.6 L401.1 721.8 L402.8 719.4 L404.4 716.9 L406.1 716.8 L407.8 714.8 L409.4 713 L411.1 711.7 L412.8 711.1 L414.5 711.5 L416.2 709.2 L418.1 709.7 L420 709 L421.5 709 L423 709.4 L424.5 709.6 L426 709 L427.5 705.2 L428.9 705.6 L430.4 702 L431.9 696.9 L433.4 690 L434.9 687.2 L436.4 683 L437.9 678 L439.4 674.7 L440.8 672 L442.3 666.5 L443.8 661.7 L445.3 656.6 L446.8 654 L448.3 649.9 L449.8 645 L451.2 637.6 L452.7 633 L454.2 621.4 L455.7 612.6 L458.1 603.7 L460.2 577 L461.7 559.6 L463.2 544 L464.6 565 L466.1 612.6 L467.6 580 L469.1 568 L470.6 577 L472.1 592 L473.6 580 L475.1 578.9 L476.5 580 L478 578 L479.5 577 L481 573.1 L482.5 572 L484 572.9 L485.5 577 L487 580.4 L488.5 586 L489.9 584.7 L491.4 586 L492.9 587.1 L494.4 589 L496.8 601 L498.9 611 L500.4 600 L501.8 592 L503.3 593.2 L504.8 592.4 L506.3 592 L507.8 587.9 L509.3 586 L510.8 584.2 L512.3 583.5 L513.8 583 L515.3 579.6 L516.7 575.8 L518.2 574 L520 571 L521.5 572 L523 570.7 L524.5 573.3 L526 572.6 L527.6 573.6 L529.1 573.4 L530.6 575.7 L532.3 572.8 L533.9 571.9 L535.6 570.7 L537.3 563.2 L539 558.3 L540.7 550.5 L542.4 542.7 L544 535.6 L545.7 530.4 L548.2 510.2 L550.7 500 L552.2 478.4 L553.6 454 L555 447.4 L556.5 440.7 L559.3 456.6 L560.8 468 L562.2 453.7 L563.7 494 L565.2 479.9 L566.6 468 L568 461 L569.5 453.7 L571 455.8 L572.4 461 L573.8 461.6 L575.3 463.5 L576.7 462.5 L578.2 463.7 L579.6 463.1 L581 461.7 L582.5 462.5 L584 467.8 L585.4 474 L586.8 477.3 L588.3 482.7 L589.7 481.7 L591.2 479 L592.6 477 L594 477.1 L595.5 475.5 L596.9 477.4 L598.4 479.4 L599.8 482.7 L601.3 486.6 L602.7 490.1 L604.2 491.4 L605.6 494 L607.1 495.2 L608.5 495.7 L610 494.6 L611.4 491.4 L612.9 494.6 L614.3 495.3 L615.8 498.6 L617.2 499.1 L618.7 499.1 L620.1 500 L621.5 494.2 L623 489.8 L624.5 486.3 L625.9 482.7 L627.3 479.1 L628.8 477 L630.2 477.6 L631.7 478.5 L633.1 477 L634.5 479.7 L636 482.7 L637.4 482.2 L638.9 480.5 L640.3 477 L641.8 478.7 L643.2 477.1 L644.6 476.9 L646.1 478 L647.5 477.9 L649 478.5 L650.5 479.3 L651.9 481 L653.3 482 L654.8 483.4 L656.2 482.7 L657.7 488.8 L659.1 492.7 L660.6 492.2 L662 492.3 L663.5 491.4 L665 493.4 L666.4 492.2 L667.8 495.1 L669.3 495.7 L670.7 498 L672.2 498.5 L673.6 498.6 L674.4 504 L676 508 L677.6 510.4 L679.2 518.4 L681.6 508.8 L684 505.6 L685.6 508.7 L687.2 512 L688.8 513.8 L690.4 517.6 L692.8 508.8 L694.9 501.6 L696.8 510.4 L699.2 508.8 L701.6 508.8 L703.2 511.3 L704.8 512 L706.4 513.9 L708 516.8 L709.6 518.6 L711.2 518.4 L713.2 523.1 L715.2 524.8 L717.6 531.2 L719.2 547.2 L721.6 537.6 L724 528 L725.6 540.8 L728 539.2 L730.4 537.6 L732.8 536 L735.2 534.4 L736.8 530.9 L738.4 528 L740 525.7 L741.6 524 L744 528 L746.4 532.8 L748 534.2 L749.6 532.8 L752 534.4 L754.4 539.2 L756 540.8 L757.6 540.7 L759.2 539.2 L760.8 537.3 L762.4 537.6 L764 535.6 L765.6 536 L767.2 535.7 L768.8 537.6 L770.4 538.9 L772 537.6 L773.6 539.8 L775.2 540 L776.8 537.7 L778.4 537.6 L780 537 L781.6 534.4 L783.2 535.1 L784.8 532.8 L786.4 530.9 L788 528 L790.4 523.2 L792.8 526.4 L794.4 524.7 L796 524 L797.6 525.4 L799.2 526.4 L800.8 526.8 L802.4 529.6 L804.8 534.4 L807.2 541.6 L808.8 538.8 L810.4 539.2 L812 539.1 L813.6 536 L815.2 537.7 L816.8 538.4 L818.4 538.1 L820 537.6 L821.6 538.2 L823.2 536 L824.8 534.2 L826.4 532.8 L828 531.6 L829.6 528 L831.2 525 L832.8 520 L834.4 512 L836 500 L837.6 512 L839.2 518.4 L840.8 517.5 L842.4 518.4 L844 515.2 L846.4 510.4 L848.8 505.6 L850.4 500.8 L852 497.6 L853.6 496.5 L855.2 496.8 L856.8 497.6 L858.4 500 L860 499.5 L861.6 498.4 L863.2 502.8 L864.8 508.8 L866.4 507.7 L868 507.2 L869.6 507.2 L871.2 509.6 L872.8 510.5 L874.4 508.8 L876 505.1 L877.6 502.4 L879.2 501.5 L880.8 500.8 L882.4 502.7 L884 504 L885.6 504.9 L887.2 503.2 L888.8 502.5 L890.4 502.4 L892 503.7 L893.6 502.4 L895.2 502.4 L896.8 502.4 L898.4 502.1 L900 501.6 L901.6 500.1 L903.2 498.4 L904.8 496.5 L906.4 497.6 L908 497.4 L909.6 497.6 L911.2 497 L912.8 498.4 L914.4 497.2 L916 499.2 L917.6 491.2 L919.2 486.4 L920.8 485 L922.4 481.6 L924 472 L925.6 468 L927.2 480 L928.8 473.6 L930.4 473.4 L932 475.2 L933.6 475.1 L935.2 475.2 L936.8 475.9 L938.4 475.2 L940 476.2 L941.6 476.8 L944 486.4 L946.4 483.2 L948 482.9 L949.6 483.8 L951.2 484 L952.8 484.2 L954.4 484 L956 482.9 L957.6 480 L959.2 479.1 L960.8 480.8 L962.4 481.4 L964 481.6 L965.6 480 L967.2 480 L968.8 478.5 L970.4 478.4 L972 478.5 L973.6 476.8 L975.2 475.2 L976.8 473.6 L978.4 471.8 L980 469.6 L981.5 470 L983 470.1 L984.5 468.2 L986 468 L987.5 467.6 L988.9 466.5 L990.3 465.8 L991.8 465 L993.2 465.2 L994.7 464.1 L996.1 464 L997.6 463.5 L999 460 L1000.5 456.6 L1002 453.7 L1003.4 448 L1004.8 451.5 L1006.3 453.7 L1007.7 464 L1009.2 461.5 L1010.6 456.6 L1012.1 456.1 L1013.5 452 L1015 450.9 L1016.5 449.6 L1017.9 448 L1019.3 447.9 L1020.7 445 L1022.2 444.2 L1023.6 440 L1025.1 439.3 L1026.5 436.6 L1028 436.4 L1029.5 437.7 L1030.9 439.3 L1032.3 442.3 L1033.8 448 L1035.2 450 L1036.7 453.7 L1039.5 442 L1041 439.7 L1042.4 440.7 L1043.9 439.3 L1045.3 439.2 L1046.8 438.6 L1048.2 436.4 L1049.7 432.4 L1051.1 430.6 L1052.5 425.5 L1054 419 L1055.5 415.2 L1056.9 410.4 L1058.3 403.5 L1059.8 398.8 L1061.2 397.1 L1062.7 393 L1064.2 391.6 L1065.6 387.2 L1067 389.2 L1068.5 393 L1070 395.9 L1071.4 395.9 L1072.8 397 L1074.3 398.8 L1075.8 398 L1077.2 397.3 L1080 408.9 L1081.5 402.5 L1082.9 393 L1084.3 392.6 L1085.8 390.1 L1087.2 386.1 L1088.7 384.3 L1090.2 375.4 L1091.6 367 L1093 365.5 L1094.5 364 L1096 362.1 L1097.4 361.2 L1098.8 358.8 L1100.3 358.3 L1101.8 360.6 L1103.2 364 L1104.7 370.5 L1106.1 375.6 L1107.5 369.8 L1109 367 L1110.5 364.3 L1111.9 361.2 L1113.3 358.1 L1114.8 355.4 L1116.2 349.5 L1117.7 346.7 L1120.5 346.7 L1122 343.3 L1123.4 341 L1124.8 337 L1126.3 332.2 L1127.8 336.6 L1129.2 341 L1130.7 332.2 L1132.2 326.5 L1133.6 323.6 L1135 320.8 L1136.5 314.9 L1137.9 303.3 L1139.3 288.8 L1140.8 282.5 L1142.2 274.4 L1143.7 284.6 L1145.1 291.7 L1146.5 287.6 L1148 286 L1149.5 283 L1151 289.5 L1152.4 297.5 L1153.8 298.9 L1155.3 303.3 L1158.1 309 L1159.5 315.7 L1161 320.7 L1162.5 335.1 L1164 324.3 L1165.4 314.9 L1166.8 309.4 L1168.3 306.2 L1169.8 308.9 L1171.2 312 L1172.7 311.1 L1174.1 307.6 L1175.5 316.6 L1177 323.6 L1179.8 326.5 L1181.2 327.2 L1182.7 329.4 L1184.2 331.1 L1185.6 335.1 L1187 335 L1188.5 332.2 L1190 326.7 L1191.4 320.7 L1192.8 319.9 L1194.3 317.8 L1195.8 315 L1197.2 314.9 L1198.7 316.4 L1200.1 320.7 L1201.5 322.8 L1203 323.6 L1204.5 326.3 L1205.9 329.4 L1207.3 329.4 L1208.8 332.2 L1210.2 335.1 L1211.7 335.1 L1213.2 338.5 L1214.6 341 L1216 342.7 L1217.5 342.4 L1220.3 339.5 L1221.8 336 L1223.2 335.1 L1224.7 333.4 L1226.1 329.4 L1227.5 325.8 L1229 325 L1230.5 328.4 L1231.9 329.4 L1233.3 333.6 L1234.8 338 L1236.2 339 L1237.7 341 L1239.2 341.2 L1240.6 341 L1242 339.4 L1243.5 335.1 L1245 332.9 L1246.4 332.2 L1247.8 333.9 L1249.3 338 L1250.7 338.2 L1252.2 337.3 L1253.6 338.2 L1255.4 337.3 L1257.3 337.7 L1259.1 339.1 L1260.9 338 L1262.7 338.7 L1264.5 340 L1266.3 339.4 L1268.2 339.4 L1270 340 L1272.7 340 L1275.5 350.9 L1277.3 361.8 L1279.1 367.3 L1281.8 370.9 L1284.5 378.2 L1286.4 380 L1288.2 369.1 L1290 367.3 L1292.7 369.1 L1295.5 368.2 L1297.3 372.7 L1299.1 374.4 L1300.9 374.5 L1302.7 374.8 L1304.5 376.4 L1306.4 377.3 L1308.2 375.9 L1310 374.5 L1311.8 370.8 L1313.6 369.1 L1315.4 369.5 L1317.3 370.9 L1319.1 368.5 L1320.9 368.3 L1322.7 368.2 L1324.6 366.2 L1326.4 367.3 L1328.2 360 L1330 354.5 L1331.8 353.9 L1333.6 351.8 L1335.4 351.5 L1337.3 350.9 L1339.1 351.8 L1341.8 345.5 L1343.6 340 L1345.5 329.1 L1347.3 327.3 L1350 323.6 L1352.7 321.8 L1355.5 328.2 L1358.2 321.8 L1360 312.7 L1361.8 300 L1363.6 305.5 L1365 303.6 L1366.4 303.6 L1368.2 300 L1370 310.9 L1372.7 314.5 L1375.5 312.7 L1377.3 307.3 L1380 303.6 L1381.8 309.1 L1384.5 310.9 L1386.3 312.6 L1388.2 314.5 L1390.9 310.9 L1392.4 312.3 L1394 309.6 L1395.5 310.9 L1397.3 312.7 L1399.1 323.6 L1400.9 325.5 L1402.7 326.5 L1404.5 325.5 L1406.3 326.2 L1408.2 327.3 L1410 330.9 L1411.8 318.2 L1414.5 318.2 L1417.3 320 L1420 325.5 L1422.7 332.7 L1424.6 332.7 L1426.4 332.7 L1428.2 334.2 L1430 333.6 L1431.8 336.4 L1433.6 332.7 L1435.4 332.8 L1437.3 333.6 L1439.1 329.1 L1440.9 326.4 L1442.7 323.6 L1444.6 322.4 L1446.4 320 L1448.2 319.7 L1450 316.4 L1451.5 314.7 L1453 315 L1454.5 312.7 L1457.3 314.5 L1459.1 317 L1460.9 318.2 L1463.6 323.6 L1465.5 334.5 L1466.4 352.7 L1468.2 350.9 L1470 343.6 L1471.8 340 L1473.7 337.7 L1475.5 334.5 L1477.3 334.2 L1479.1 334.5 L1480.9 332.2 L1482.7 330.9 L1484.6 324.9 L1486.4 321.8 L1489.1 316.4 L1491.8 318.2 L1494.5 316.4 L1497.3 314.5 L1499.1 313.3 L1500.9 314.5 L1502.7 314.1 L1504.5 316.4 L1506.3 318.1 L1508.2 318.2 L1510 317.4 L1511.8 318.2 L1513.7 317.1 L1515.5 318.2 L1518.2 316.4 L1520 307.3 L1522.7 304.5 L1524.6 302.7 L1526.4 303.6 L1528.2 305.1 L1530 304.5 L1531.8 306.2 L1533.6 305.5 L1535.5 310.9 L1537.3 311.8 L1539.1 311 L1540.9 309.1 L1542.7 308.9 L1544.5 310 L1546.3 308.7 L1548.2 309.1 L1550 306.6 L1551.8 305.5 L1553.7 301.7 L1555.5 298.2 L1557.3 293.5 L1559.1 290.9 L1560.9 288 L1562.7 285.5 L1564.6 281.1 L1566.4 278.2 L1568.2 278.3 L1570 275.5 L1571.8 277.5 L1573.6 276.4 L1575.4 271.1 L1577.3 265.5 L1580 258 L1582.7 243.6 L1585.5 230.9 L1588.2 238.2 L1590.9 241.8 L1592.7 245.5 L1594.5 234.5 L1597.3 223.6 L1600 218.2 L1602.7 210.9 L1605.5 220.9 L1608.2 216.4 L1610.9 207.3 L1613.6 210.9 L1615 211 L1616.4 212.7 L1619.1 209.1 L1620.9 207.8 L1622.7 203.6 L1624.6 208.4 L1626.4 214.5 L1629.1 209.1 L1630.9 208.6 L1632.7 209.1 L1634.5 216.4 L1637.3 232.7 L1640 236.4 L1641.8 235.7 L1643.6 238.2 L1645.4 234.2 L1647.3 230.9 L1650 240 L1652.7 240 L1654.6 239.9 L1656.4 240 L1658.2 241.8 L1660 243.6 L1662.7 247.3 L1664.5 238.2 L1666.4 230.9 L1669.1 223.6 L1670.9 220.8 L1672.7 220 L1674.6 219.1 L1676.4 218.2 L1677.9 215.4 L1679.4 215 L1680.9 214.5 L1683.6 221.8 L1685.5 220 L1688.2 229.1 L1690 225.5 L1691.8 216.4 L1694.5 209.1 L1696.3 204.1 L1698.2 201.8 L1700 202.4 L1701.8 203.6 L1703.7 200.3 L1705.5 200 L1707.3 200.3 L1709.1 203.6 L1710.9 205.7 L1712.7 209.1 L1714.6 211.9 L1716.4 216.4 L1718.2 218.5 L1720 220 L1721.8 218.3 L1723.6 216.4 L1725.4 219.9 L1727.3 221.8 L1729.1 225.1 L1730.9 227.3 L1732.7 232.5 L1734.5 236.4 L1736.3 234.9 L1738.2 230.9 L1740 227.8 L1741.8 225.5 L1744.5 227.3 L1747.3 232.7 L1750 225.5 L1752.7 232.7 L1754.6 230.3 L1756.4 229.1 L1759.1 223.6 L1761.8 220.9 L1763.7 224.8 L1765.5 225.5 L1767.3 226.2 L1769.1 229.1 L1770.9 230.7 L1772.7 230.9 L1775.5 232.7 L1777.3 241.8 L1779.1 249.1 L1781.8 247.3 L1783.7 247.8 L1785.5 247.3 L1788.2 245.5 L1790.9 249.1 L1792.7 263.6 L1794.5 272.7 L1797.3 269.1 L1800 270.9 L1802.7 269.1 L1805.5 263.6 L1807.3 261.2 L1809.1 261.8 L1810.9 262.9 L1812.7 261.8 L1814.6 262.2 L1816.4 260 L1819.1 267.3 L1821.8 271.8 L1823.7 272.7 L1825.5 272.7 L1828.2 267.3 L1830.9 274.5 L1832.7 274.8 L1834.5 273.6 L1836.3 274.6 L1838.2 273.6 L1840 272.4 L1841.8 273.6 L1843.7 273.2 L1845.5 272.7 L1847.3 270.9 L1849.1 269.1 L1850.9 283.6 L1852.7 285.1 L1854.5 284.5 L1856.3 285 L1858.2 283.6 L1860 283.4 L1861.8 281.5 L1863.6 280 L1865.4 282.2 L1867.3 281.8 L1869.1 283.3 L1870.9 283.6 L1873.6 281.8 L1875 277.9 L1876.4 272.7 L1879.1 263.6 L1880.6 262.1 L1882.1 260.9 L1883.6 261.8 L1885.4 261.5 L1887.3 263.6 L1889.1 260 L1890.9 260 L1892.7 260.9 L1894.6 261.9 L1896.4 265.5 L1899.1 270.9 L1900.9 254.5 L1903.6 250.9 L1905.4 252.4 L1907.3 251.8 L1909.1 250.6 L1910.9 249.1 L1913.6 247.3 L1915 250 L1916.4 251.8 L1918.2 249.1 L1920 250.9" fill="none" stroke="#f4f4f4" stroke-width="1.7" stroke-linejoin="round" filter="url(#halo)"/>
<line x1="1941" y1="153" x2="1941" y2="1078" stroke="#4a5060" stroke-width="2"/>
<g fill="#ff0506" fill-opacity="0.2"><ellipse cx="378.5" cy="918.2" rx="38.5" ry="186.2"/><ellipse cx="860.9" cy="900.4" rx="38.3" ry="186"/><ellipse cx="1372.6" cy="862.2" rx="38.5" ry="231.8"/><ellipse cx="1926.3" cy="862.2" rx="38.5" ry="231.8"/></g>
<g fill="#ffffff" filter="url(#halo)" stroke="#fff" stroke-width="0.35">
<g font-size="13.3" text-anchor="end"><text x="79" y="1082.2">0</text><text x="79" y="885.7">1</text><text x="79" y="688.7">2</text><text x="79" y="492.2">3</text><text x="79" y="295.2">4</text></g>
<g font-size="13.5" text-anchor="middle"><text x="135.2" y="1094">2011</text><text x="280" y="1094">2012</text><text x="424.8" y="1094">2013</text><text x="569.5" y="1094">2014</text><text x="714.3" y="1094">2015</text><text x="859" y="1094">2016</text><text x="1003.8" y="1094">2017</text><text x="1148.5" y="1094">2018</text><text x="1293.2" y="1094">2019</text><text x="1438" y="1094">2020</text><text x="1582.7" y="1094">2021</text><text x="1727.5" y="1094">2022</text><text x="1872.2" y="1094">2023</text></g>
<g font-size="13.5"><text x="1944" y="180.7">$100,000</text><text x="1944" y="318.2">$10,000</text><text x="1944" y="455.7">$1,000</text><text x="1944" y="593.7">$100</text><text x="1944" y="731.2">$10</text><text x="1944" y="868.7">$1</text><text x="1944" y="1006.7">$0.1</text></g>
<g stroke-width="0.6">
<text transform="translate(40.5,615.5) rotate(-90)" text-anchor="middle" font-size="14.5" textLength="91" lengthAdjust="spacingAndGlyphs">VDD Multiple</text>
<text transform="translate(1990.5,616) rotate(-90)" text-anchor="middle" font-size="15" textLength="112.5" lengthAdjust="spacingAndGlyphs">BTC Price (USD)</text>
</g>
</g>
<g filter="url(#halo2)">
<g fill="none" stroke="#ffff00" stroke-width="4" stroke-dasharray="14 9.5"><path d="M340 918.2 A38.5 186.2 0 1 1 417 918.2 A38.5 186.2 0 1 1 340 918.2" stroke-dasharray="14.087 9.559"/><path d="M822.6 900.4 A38.3 186 0 1 1 899.2 900.4 A38.3 186 0 1 1 822.6 900.4" stroke-dasharray="14.063 9.543"/><path d="M1334.1 862.2 A38.5 231.8 0 1 1 1411.1 862.2 A38.5 231.8 0 1 1 1334.1 862.2" stroke-dasharray="13.904 9.435"/><path d="M1887.8 862.2 A38.5 231.8 0 1 1 1964.8 862.2 A38.5 231.8 0 1 1 1887.8 862.2" stroke-dasharray="13.904 9.435"/></g>
<line x1="1843" y1="668.5" x2="1897" y2="690" stroke="#ffff00" stroke-width="4" stroke-dasharray="13 9"/>
<g fill="#ffff00" font-size="41">
<text x="1729" y="562">Similar</text><text x="1729" y="610.5">spike in</text><text x="1729" y="659">VDD</text></g>
</g>
<g font-size="12.8" fill="#fff" stroke="#fff" stroke-width="0.45" filter="url(#halo)">
<line x1="86" y1="1188" x2="122" y2="1188" stroke="#ececec" stroke-width="2"/>
<text x="127.5" y="1192.5" textLength="55" lengthAdjust="spacingAndGlyphs">BTC Price</text>
<rect x="204.5" y="1180.5" width="14" height="14" fill="#80d8b2"/>
<text x="235" y="1192.5" textLength="119" lengthAdjust="spacingAndGlyphs">VDD Multiple &lt; 0.75</text>
<rect x="377" y="1180.5" width="14" height="14" fill="#e4a83c"/>
<text x="407" y="1192.5" textLength="112" lengthAdjust="spacingAndGlyphs">VDD Multiple &lt; 2.9</text>
<rect x="542.5" y="1180.5" width="14" height="14" fill="#d64e60"/>
<text x="572" y="1192.5" textLength="112" lengthAdjust="spacingAndGlyphs">VDD Multiple &gt; 2.9</text>
</g>
</svg>
<div class="sb"></div><div class="thumb"></div>
</body></html>
